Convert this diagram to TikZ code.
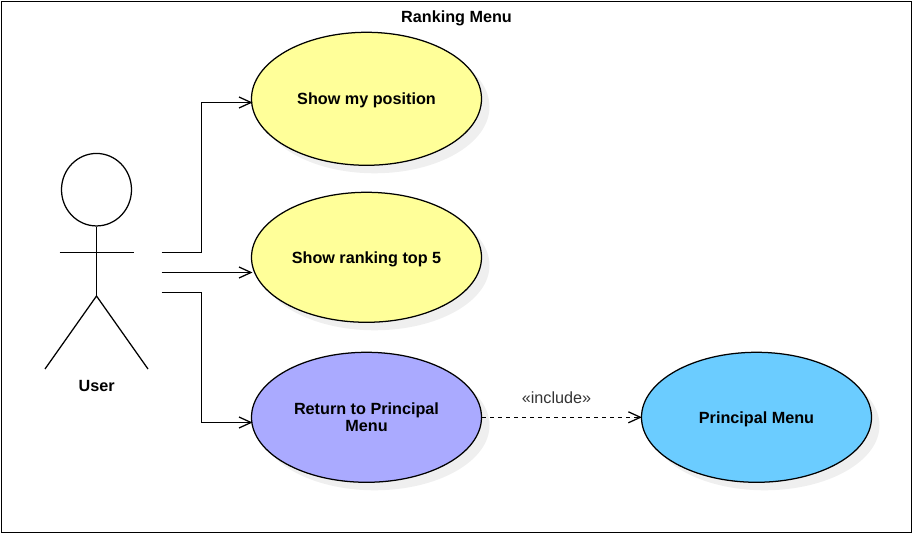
\documentclass[tikz,border=0pt]{standalone}
\usepackage{fontspec}
\setmainfont{Liberation Sans}
\usetikzlibrary{shapes.geometric,shadows,arrows.meta}
\definecolor{caseyellow}{HTML}{FFFF99}
\definecolor{casepurple}{HTML}{AAAAFF}
\definecolor{caseblue}{HTML}{6BCCFF}
\definecolor{shadowgrey}{HTML}{EFEFEF}
\definecolor{labelgrey}{HTML}{333333}
\newcommand{\lowertext}[1]{\raisebox{-1.8pt}[\height][\depth]{#1}}
\tikzset{
  usecase/.style={ellipse,draw=black,line width=1.25pt,minimum width=230pt,minimum height=130pt,inner sep=0pt,align=center,
    font=\fontsize{16.2}{17}\selectfont\bfseries,
    drop shadow={shadow xshift=8pt,shadow yshift=-8pt,fill=shadowgrey,opacity=1}},
  stick/.style={line width=1.25pt,draw=black},
  assoc/.style={line width=1.25pt,draw=black,-{Straight Barb[length=12pt,width=11pt,line width=1.25pt]}},
  incl/.style={assoc,line width=1.15pt,dash pattern=on 4pt off 4pt},
  title/.style={font=\fontsize{16.2}{17}\selectfont\bfseries}
}
\begin{document}
\begin{tikzpicture}[x=1pt,y=-1pt]
\useasboundingbox (0,0) rectangle (913,534);
\node[draw=black,line width=1.25pt,minimum width=910pt,minimum height=531pt,inner sep=0pt] (frame) at (456.5,266.8) {};
\node[title] (menutitle) at (456.5,18.5) {Ranking Menu};
\node[usecase,fill=caseyellow,minimum height=133pt] (position) at (366.5,98.8) {\lowertext{Show my position}};
\node[usecase,fill=caseyellow] (ranking) at (366.5,257.3) {\lowertext{Show ranking top 5}};
\node[usecase,fill=casepurple] (ret) at (366.5,417.3) {Return to Principal\\Menu};
\node[usecase,fill=caseblue] (principal) at (756.5,417.3) {\lowertext{Principal Menu}};
% actor
\node[ellipse,draw=black,line width=1.25pt,minimum width=70pt,minimum height=72.5pt,inner sep=0pt] (head) at (96.5,189.7) {};
\coordinate (hip) at (96.5,296);
\coordinate (armL) at (59.5,252.5);
\coordinate (armR) at (133.5,252.5);
\coordinate (legL) at (45,369);
\coordinate (legR) at (148,369);
\draw[stick] (head.south) -- (hip);
\draw[stick] (armL) -- (armR);
\draw[stick] (legL) -- (hip) -- (legR);
\node[title] (user) at (96.7,386) {User};
% connectors
\coordinate (out1) at (161.5,252.5);
\coordinate (out2) at (161.5,272.5);
\coordinate (out3) at (161.5,292.5);
\coordinate (in1) at (252.5,102.5);
\coordinate (in2) at (252.5,272.5);
\coordinate (in3) at (252.5,422.5);
\draw[assoc] (out1) -- (201.5,252.5) -- (201.5,102.5) -- (in1);
\draw[assoc] (out2) -- (in2);
\draw[assoc] (out3) -- (201.5,292.5) -- (201.5,422.5) -- (in3);
\draw[incl] (ret.east) -- node[above=13pt,xshift=-5.5pt,text=labelgrey,font=\fontsize{16.2}{17}\selectfont,inner sep=0pt] (inclabel) {«include»} ([xshift=1pt]principal.west);
\end{tikzpicture}
\end{document}
